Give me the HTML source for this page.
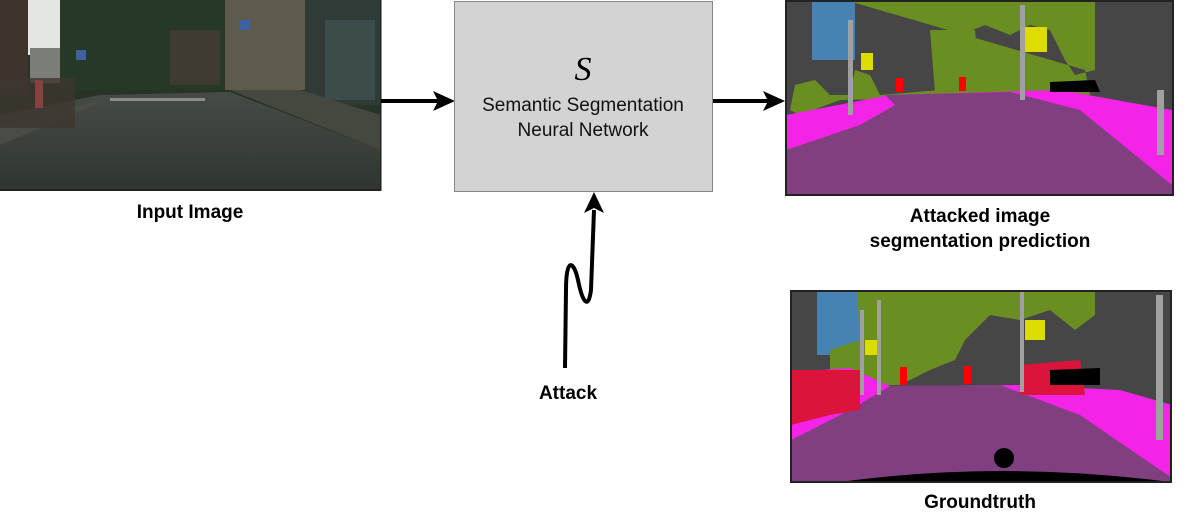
<!DOCTYPE html>
<html><head><meta charset="utf-8"><style>
html,body{margin:0;padding:0;background:#fff;}
body{width:1200px;height:529px;position:relative;overflow:hidden;font-family:"Liberation Sans",Arial,sans-serif;}
.lbl{position:absolute;font-weight:bold;font-size:19px;color:#000;text-align:center;line-height:25px;}
</style></head><body>
<svg width="1200" height="529" style="position:absolute;left:0;top:0">
<defs>
<linearGradient id="road" x1="0" y1="0" x2="0" y2="1"><stop offset="0" stop-color="#464b45"/><stop offset="1" stop-color="#30352f"/></linearGradient>
</defs>
<!-- Input image -->
<g>
<rect x="0" y="0" width="381" height="191" fill="#263326"/>
<rect x="26" y="0" width="50" height="55" fill="#e3e6e1"/>
<rect x="0" y="0" width="28" height="95" fill="#3e332d"/>
<rect x="30" y="48" width="35" height="35" fill="#7a7e76"/>
<path d="M60 0 H300 V90 H60 Z" fill="#263826"/>
<rect x="170" y="30" width="50" height="55" fill="#3f3a32"/>
<rect x="225" y="0" width="85" height="90" fill="#5e5a4e"/>
<rect x="305" y="0" width="76" height="105" fill="#303a36"/>
<rect x="325" y="20" width="50" height="80" fill="#3c4c4a"/>
<path d="M0 115 L100 95 L230 92 L381 150 L381 191 L0 191 Z" fill="url(#road)"/>
<path d="M0 125 L100 100 L95 105 L0 145 Z" fill="#4a4c46"/>
<path d="M230 90 L300 90 L381 115 L381 150 Z" fill="#44483f"/>
<rect x="110" y="98" width="95" height="3" fill="#8a8e88"/>
<rect x="0" y="78" width="75" height="50" fill="#3d3630" opacity=".8"/>
<rect x="35" y="80" width="8" height="28" fill="#8a4040"/>
<rect x="240" y="20" width="10" height="10" fill="#4060a0"/>
<rect x="76" y="50" width="10" height="10" fill="#4060a0"/>
<rect x="0" y="189" width="381" height="2" fill="#222"/>
<rect x="380" y="0" width="1.5" height="191" fill="#222"/>
</g>
<!-- arrows -->
<line x1="381" y1="101" x2="438" y2="101" stroke="#000" stroke-width="4"/>
<path d="M455 101 L433 91 L438 101 L433 111 Z" fill="#000"/>
<line x1="713" y1="101" x2="768" y2="101" stroke="#000" stroke-width="4"/>
<path d="M785 101 L763 91 L768 101 L763 111 Z" fill="#000"/>
<!-- box -->
<rect x="454.5" y="1.5" width="258" height="190" fill="#d3d3d3" stroke="#888" stroke-width="1"/>
<text x="583" y="80" font-family="Liberation Serif,serif" font-style="italic" font-size="34" text-anchor="middle">S</text>
<text x="583" y="111" font-family="Liberation Sans,sans-serif" font-size="19" text-anchor="middle" fill="#111">Semantic Segmentation</text>
<text x="583" y="136" font-family="Liberation Sans,sans-serif" font-size="19" text-anchor="middle" fill="#111">Neural Network</text>
<!-- attack -->
<path d="M565 368 L566 290 C566 255 574 262 578 280 C582 300 588 312 591 290 L594 210" fill="none" stroke="#000" stroke-width="4"/>
<path d="M594 192 L604 213 L594 208 L584 213 Z" fill="#000"/>
<!-- seg 1 -->
<g>
<rect x="786" y="2" width="386" height="192" fill="#464646"/>
<path d="M812 2 H855 V60 H812 Z" fill="#4682b4"/>
<path d="M852 2 H1095 V70 L1075 75 L1065 60 L1050 30 L1030 25 L1010 35 L985 25 L960 35 L945 45 L940 90 L880 95 L870 75 L855 70 L850 95 L830 95 L815 80 L795 85 L790 110 L800 115 L840 100 L1090 95 L1085 70 Z" fill="#6b8e23"/>
<path d="M930 30 L975 30 L980 90 L935 92 Z" fill="#6b8e23"/>
<path d="M786 115 L890 95 L1060 90 L1172 110 L1172 194 L786 194 Z" fill="#f423e8"/>
<path d="M786 150 L860 125 L895 105 L885 95 L1010 92 L1080 110 L1172 185 L1172 194 L786 194 Z" fill="#804080"/>
<path d="M1050 82 L1095 80 L1100 92 L1050 92 Z" fill="#000"/>
<rect x="861" y="53" width="12" height="17" fill="#dcdc00"/>
<rect x="1025" y="27" width="22" height="25" fill="#dcdc00"/>
<rect x="896" y="78" width="7" height="14" fill="#ff0000"/>
<rect x="959" y="77" width="7" height="14" fill="#ff0000"/>
<rect x="848" y="20" width="5" height="95" fill="#a0a0a0"/>
<rect x="1020" y="5" width="5" height="95" fill="#a0a0a0"/>
<rect x="1157" y="90" width="7" height="65" fill="#a0a0a0"/>
<rect x="786" y="1" width="387" height="194" fill="none" stroke="#222" stroke-width="2"/>
</g>
<!-- seg 2 -->
<g>
<rect x="791" y="292" width="379" height="190" fill="#464646"/>
<path d="M817 292 H860 V355 H817 Z" fill="#4682b4"/>
<path d="M857 292 H1095 V315 L1075 330 L1050 310 L1020 320 L990 315 L965 340 L955 360 L930 370 L900 385 L830 385 L830 350 L860 340 Z" fill="#6b8e23"/>
<path d="M791 372 L850 368 L890 386 L1020 385 L1120 390 L1172 405 L1172 482 L791 482 Z" fill="#f423e8"/>
<path d="M791 440 L850 410 L890 386 L1000 385 L1080 415 L1172 478 L1172 482 L791 482 Z" fill="#804080"/>
<path d="M791 370 L860 370 L860 410 L830 415 L791 425 Z" fill="#dc143c"/>
<path d="M1020 365 L1080 360 L1085 395 L1020 395 Z" fill="#dc143c"/>
<path d="M1050 370 L1100 368 L1100 385 L1050 385 Z" fill="#000"/>
<path d="M840 482 Q1000 460 1170 482 Z" fill="#000"/>
<circle cx="1004" cy="458" r="10" fill="#000"/>
<rect x="865" y="340" width="14" height="15" fill="#dcdc00"/>
<rect x="1025" y="320" width="20" height="20" fill="#dcdc00"/>
<rect x="900" y="367" width="7" height="18" fill="#ff0000"/>
<rect x="964" y="366" width="7" height="18" fill="#ff0000"/>
<rect x="860" y="310" width="4" height="85" fill="#a0a0a0"/>
<rect x="877" y="300" width="4" height="95" fill="#a0a0a0"/>
<rect x="1020" y="292" width="4" height="100" fill="#a0a0a0"/>
<rect x="1156" y="295" width="7" height="145" fill="#a0a0a0"/>
<rect x="791" y="291" width="380" height="191" fill="none" stroke="#222" stroke-width="2"/>
</g>
</svg>
<div class="lbl" style="left:90px;top:200px;width:200px;">Input Image</div>
<div class="lbl" style="left:830px;top:204px;width:300px;">Attacked image<br>segmentation prediction</div>
<div class="lbl" style="left:508px;top:381px;width:120px;">Attack</div>
<div class="lbl" style="left:880px;top:490px;width:200px;">Groundtruth</div>
</body></html>
